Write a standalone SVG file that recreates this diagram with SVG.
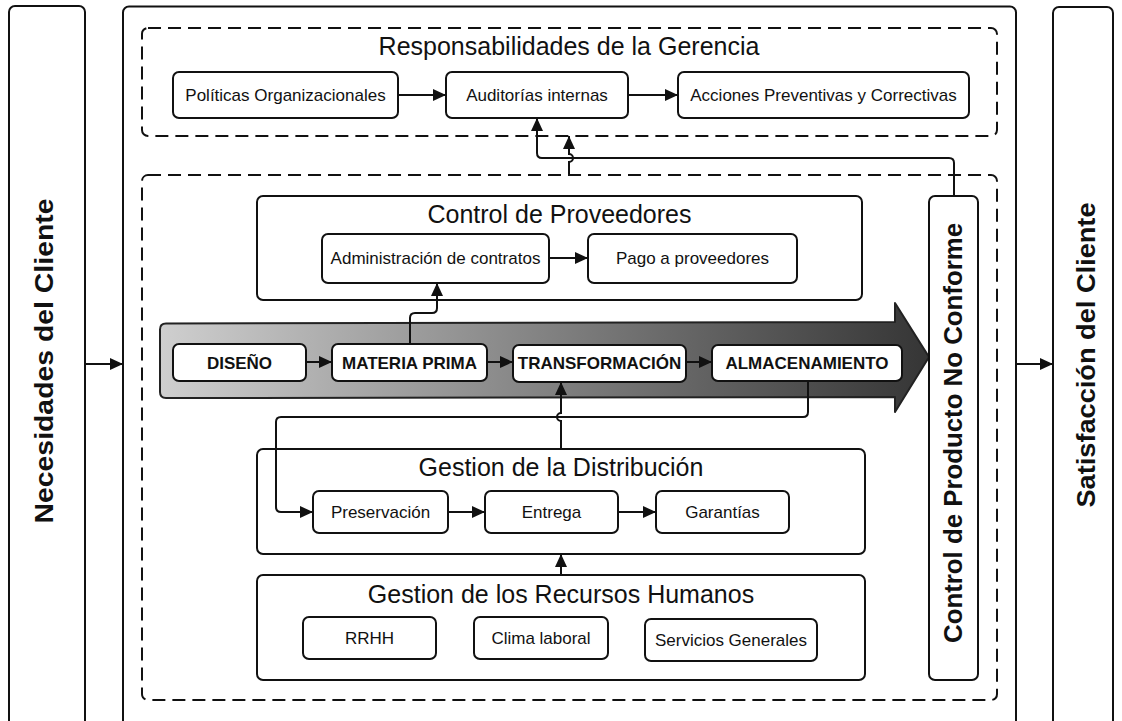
<svg xmlns="http://www.w3.org/2000/svg" width="1122" height="721" viewBox="0 0 1122 721">
<style>
  .box{fill:#fff;stroke:#111;stroke-width:2}
  .dash{fill:none;stroke:#111;stroke-width:2;stroke-dasharray:13 7}
  .con{fill:none;stroke:#111;stroke-width:2}
  .t{font-family:"Liberation Sans",Arial,sans-serif;fill:#111;text-anchor:middle}
  .s{font-size:17px}
  .title{font-size:25px}
  .b{font-size:17px;font-weight:bold}
  .v{font-size:26px;font-weight:bold}
</style>
<defs>
  <marker id="ah" viewBox="0 0 13 12" refX="13" refY="6" markerWidth="13" markerHeight="12" markerUnits="userSpaceOnUse" orient="auto">
    <path d="M0,0 L13,6 L0,12 z" fill="#111"/>
  </marker>
  <linearGradient id="grad" x1="0" y1="0" x2="1" y2="0">
    <stop offset="0" stop-color="#cfcfcf"/>
    <stop offset="1" stop-color="#353535"/>
  </linearGradient>
</defs>
<rect width="1122" height="721" fill="#fff"/>

<g id="necesidades">
  <rect class="box" x="9" y="6" width="76" height="730" rx="6"/>
  <text class="t v" transform="translate(53,361) rotate(-90)" textLength="325" lengthAdjust="spacingAndGlyphs">Necesidades del Cliente</text>
</g>
<g id="main">
  <rect class="box" x="123" y="6.5" width="893" height="730" rx="6"/>
</g>
<g id="satisfaccion">
  <rect class="box" x="1053" y="7" width="60" height="730" rx="6"/>
  <text class="t v" transform="translate(1095,355) rotate(-90)" textLength="305" lengthAdjust="spacingAndGlyphs">Satisfacción del Cliente</text>
</g>

<g id="responsabilidades">
  <rect class="dash" x="142" y="28" width="855" height="108" rx="6"/>
  <text class="t title" x="569" y="55">Responsabilidades de la Gerencia</text>
</g>
<g id="politicas">
  <rect class="box" x="173" y="72" width="225" height="46" rx="6"/>
  <text class="t s" x="285.5" y="101">Políticas Organizacionales</text>
</g>
<g id="auditorias">
  <rect class="box" x="446" y="72" width="182" height="46" rx="6"/>
  <text class="t s" x="537" y="101">Auditorías internas</text>
</g>
<g id="acciones">
  <rect class="box" x="678" y="72" width="291" height="46" rx="6"/>
  <text class="t s" x="823.5" y="101">Acciones Preventivas y Correctivas</text>
</g>

<g id="operaciones">
  <rect class="dash" x="142" y="175" width="855" height="525" rx="6"/>
</g>

<g id="control-proveedores">
  <rect class="box" x="257" y="196" width="605" height="104" rx="6"/>
  <text class="t title" x="559.5" y="223">Control de Proveedores</text>
</g>
<g id="administracion">
  <rect class="box" x="322" y="234" width="227" height="49" rx="6"/>
  <text class="t s" x="435.5" y="264">Administración de contratos</text>
</g>
<g id="pago">
  <rect class="box" x="588" y="234" width="209" height="49" rx="6"/>
  <text class="t s" x="692.5" y="264">Pago a proveedores</text>
</g>

<g id="flecha-proceso">
  <path d="M166,323.5 L895,322 L895,303 L929,357 L895,412 L895,397 L166,398 Q160,398 160,392 L160,329.5 Q160,323.5 166,323.5 z" fill="url(#grad)" stroke="#222" stroke-width="2" stroke-linejoin="round"/>
</g>
<g id="diseno">
  <rect class="box" x="173" y="344" width="133" height="37" rx="6"/>
  <text class="t b" x="239.5" y="368.5">DISEÑO</text>
</g>
<g id="materia-prima">
  <rect class="box" x="332" y="344" width="155" height="37" rx="6"/>
  <text class="t b" x="409.5" y="368.5">MATERIA PRIMA</text>
</g>
<g id="transformacion">
  <rect class="box" x="513" y="345" width="173" height="37" rx="6"/>
  <text class="t b" x="599.5" y="369">TRANSFORMACIÓN</text>
</g>
<g id="almacenamiento">
  <rect class="box" x="712" y="345" width="190" height="36" rx="6"/>
  <text class="t b" x="807" y="369">ALMACENAMIENTO</text>
</g>

<g id="distribucion">
  <rect class="box" x="257" y="449" width="608" height="105" rx="6"/>
  <text class="t title" x="561" y="476">Gestion de la Distribución</text>
</g>
<g id="preservacion">
  <rect class="box" x="313" y="491" width="135" height="42" rx="6"/>
  <text class="t s" x="380.5" y="518">Preservación</text>
</g>
<g id="entrega">
  <rect class="box" x="485" y="491" width="133" height="42" rx="6"/>
  <text class="t s" x="551.5" y="518">Entrega</text>
</g>
<g id="garantias">
  <rect class="box" x="656" y="491" width="133" height="42" rx="6"/>
  <text class="t s" x="722.5" y="518">Garantías</text>
</g>

<g id="recursos-humanos">
  <rect class="box" x="257" y="575" width="608" height="105" rx="6"/>
  <text class="t title" x="561" y="603">Gestion de los Recursos Humanos</text>
</g>
<g id="rrhh">
  <rect class="box" x="303" y="617" width="133" height="42" rx="6"/>
  <text class="t s" x="369.5" y="644">RRHH</text>
</g>
<g id="clima">
  <rect class="box" x="474" y="617" width="134" height="42" rx="6"/>
  <text class="t s" x="541" y="644">Clima laboral</text>
</g>
<g id="servicios">
  <rect class="box" x="645" y="619" width="172" height="42" rx="6"/>
  <text class="t s" x="731" y="646">Servicios Generales</text>
</g>

<g id="no-conforme">
  <rect class="box" x="929" y="196" width="49" height="484" rx="6"/>
  <text class="t v" transform="translate(962,433) rotate(-90)" textLength="420" lengthAdjust="spacingAndGlyphs">Control de Producto No Conforme</text>
</g>

<g id="connectors">
  <path class="con" d="M85,364 L123,364" marker-end="url(#ah)"/>
  <path class="con" d="M1016,364 L1053,364" marker-end="url(#ah)"/>
  <path class="con" d="M398,95 L446,95" marker-end="url(#ah)"/>
  <path class="con" d="M628,95 L678,95" marker-end="url(#ah)"/>
  <path class="con" d="M954,196 L954,163 Q954,158 949,158 L542,158 Q537,158 537,153 L537,118" marker-end="url(#ah)"/>
  <path class="con" d="M569,175 L569,162 A4,4 0 0 0 569,154 L569,136" marker-end="url(#ah)"/>
  <path class="con" d="M549,258 L588,258" marker-end="url(#ah)"/>
  <path class="con" d="M410,344 L410,318 Q410,313 415,313 L432,313 Q437,313 437,308 L437,283" marker-end="url(#ah)"/>
  <path class="con" d="M306,362 L332,362" marker-end="url(#ah)"/>
  <path class="con" d="M487,362 L513,362" marker-end="url(#ah)"/>
  <path class="con" d="M686,362 L712,362" marker-end="url(#ah)"/>
  <path class="con" d="M808,381 L808,412 Q808,417 803,417 L281,417 Q276,417 276,422 L276,507 Q276,512 281,512 L313,512" marker-end="url(#ah)"/>
  <path class="con" d="M561,449 L561,421 A4,4 0 0 1 561,413 L561,382" marker-end="url(#ah)"/>
  <path class="con" d="M448,512 L485,512" marker-end="url(#ah)"/>
  <path class="con" d="M618,512 L656,512" marker-end="url(#ah)"/>
  <path class="con" d="M561,575 L561,554" marker-end="url(#ah)"/>
</g>
</svg>
